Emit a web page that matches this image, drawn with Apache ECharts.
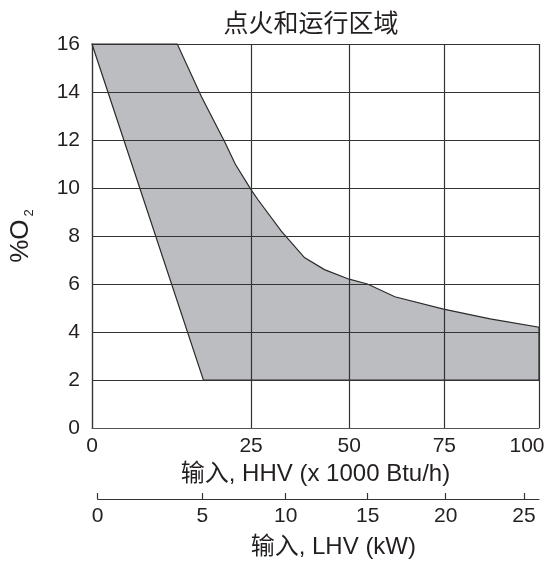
<!DOCTYPE html>
<html><head><meta charset="utf-8">
<script src="https://cdn.jsdelivr.net/npm/echarts@6/dist/echarts.min.js"></script>
<style>html,body{margin:0;padding:0;background:#fff}#c{width:552px;height:565px}</style>
</head><body><div id="c"></div>
<script>
// ---- text ----
const titleText = '点火和运行区域';
const yNameMain = '%O';
const yNameSub = '2';
const xNameHHV = '输入, HHV (x 1000 Btu/h)';
const xNameLHV = '输入, LHV (kW)';

// ---- tick labels ----
const hhvTicks = [0, 25, 50, 75, 100];
const lhvTicks = [0, 5, 10, 15, 20, 25];
const o2Min = 0, o2Max = 16, o2Step = 2;

// ---- zone outline (HHV x1000 Btu/h, %O2) ----
const zoneHHV = [0, 13.4, 17.2, 20.9, 22.5, 25.1, 26.8, 32.7, 38.6, 43.7, 50, 54.8, 62, 74.8, 87.1, 100, 100, 17.5];
const zoneO2  = [16, 16, 13.8, 11.9, 11.0, 9.9, 9.5, 8.2, 7.1, 6.6, 6.2, 6.0, 5.47, 4.95, 4.55, 4.2, 2, 2];

// ---- layout: the original drawing's uneven horizontal scale ----
const hhvPos = [0, 160, 258.6, 354.3, 449.5];
const lhvPos = [0, 104.6, 188, 270, 348, 426.3];
const lhvSpan = 441.3;

function hhvToU(x) {
  for (let i = 1; i < hhvTicks.length; i++) {
    if (x <= hhvTicks[i]) {
      const t = (x - hhvTicks[i - 1]) / (hhvTicks[i] - hhvTicks[i - 1]);
      return hhvPos[i - 1] + t * (hhvPos[i] - hhvPos[i - 1]);
    }
  }
  return hhvPos[hhvPos.length - 1];
}
function idxOf(arr, v) {
  let best = 0;
  for (let i = 1; i < arr.length; i++) if (Math.abs(arr[i] - v) < Math.abs(arr[best] - v)) best = i;
  return best;
}

const FONT = "'Liberation Sans', 'Noto Sans CJK SC', sans-serif";
const TXT = '#231f20';
const GRID = '#333';

const chart = echarts.init(document.getElementById('c'), null, { renderer: 'canvas' });
chart.setOption({
  backgroundColor: '#fff',
  animation: false,
  title: {
    text: titleText, left: 306, top: 5, textAlign: 'center',
    textStyle: { fontSize: 25, fontWeight: 'normal', color: TXT, fontFamily: "'Noto Sans CJK SC', sans-serif" }
  },
  grid: [
    { left: 89.5, top: 44, width: 449.5, height: 384 },
    { left: 97.7, top: 489, width: lhvSpan, height: 10 }
  ],
  xAxis: [
    {
      type: 'value', gridIndex: 0, min: 0, max: hhvPos[hhvPos.length - 1], z: 5,
      axisLine: { show: true, lineStyle: { color: '#555', width: 1.2 } },
      axisTick: { show: false, customValues: hhvPos },
      splitLine: { show: true, lineStyle: { color: GRID, width: 1.2 } },
      axisLabel: {
        customValues: hhvPos, margin: 8, fontSize: 21, color: TXT, fontFamily: FONT,
        formatter: v => { const i = idxOf(hhvPos, v); return i === hhvPos.length - 1 ? '{last|' + hhvTicks[i] + '}' : String(hhvTicks[i]); },
        rich: { last: { fontSize: 21, color: TXT, fontFamily: FONT, padding: [0, 24, 0, 0] } }
      },
      name: xNameHHV, nameLocation: 'middle', nameGap: 27,
      nameTextStyle: { fontSize: 24, color: TXT, fontFamily: FONT }
    },
    {
      type: 'value', gridIndex: 1, min: 0, max: lhvSpan,
      axisLine: { show: true, lineStyle: { color: GRID, width: 1.2 } },
      axisTick: { show: true, inside: true, length: 6, customValues: lhvPos, lineStyle: { color: GRID, width: 1.2 } },
      splitLine: { show: false },
      axisLabel: {
        customValues: lhvPos, margin: 7, fontSize: 21, color: TXT, fontFamily: FONT,
        formatter: v => String(lhvTicks[idxOf(lhvPos, v)])
      },
      name: xNameLHV, nameLocation: 'middle', nameGap: 36,
      nameTextStyle: { fontSize: 24, color: TXT, fontFamily: FONT, padding: [0, 0, 0, 30] }
    }
  ],
  yAxis: [
    {
      type: 'value', gridIndex: 0, min: o2Min, max: o2Max, interval: o2Step, z: 5,
      axisLine: { show: true, lineStyle: { color: GRID, width: 1.2 } },
      axisTick: { show: false },
      splitLine: { show: true, lineStyle: { color: GRID, width: 1.2 } },
      axisLabel: { margin: 12, fontSize: 21, color: TXT, fontFamily: FONT },
      name: '{o|' + yNameMain + '}{s|' + yNameSub + '}', nameLocation: 'middle', nameRotate: 90, nameGap: 56,
      nameTextStyle: {
        color: TXT, fontFamily: FONT,
        rich: {
          o: { fontSize: 26, color: TXT, fontFamily: FONT, lineHeight: 30 },
          s: { fontSize: 13, color: TXT, fontFamily: FONT, verticalAlign: 'bottom', lineHeight: 14, padding: [0, 0, 0, 3] }
        }
      }
    },
    { type: 'value', gridIndex: 1, show: false, min: 0, max: 1 }
  ],
  series: [{
    type: 'custom', coordinateSystem: 'cartesian2d', xAxisIndex: 0, yAxisIndex: 0, z: 1,
    data: [0],
    renderItem: (params, api) => {
      const pts = zoneHHV.map((x, i) => api.coord([hhvToU(x), zoneO2[i]]));
      return {
        type: 'polygon',
        shape: { points: pts },
        style: { fill: '#bcbdc0', stroke: '#2b2b2b', lineWidth: 1.2 }
      };
    }
  }]
});
</script>
</body></html>
